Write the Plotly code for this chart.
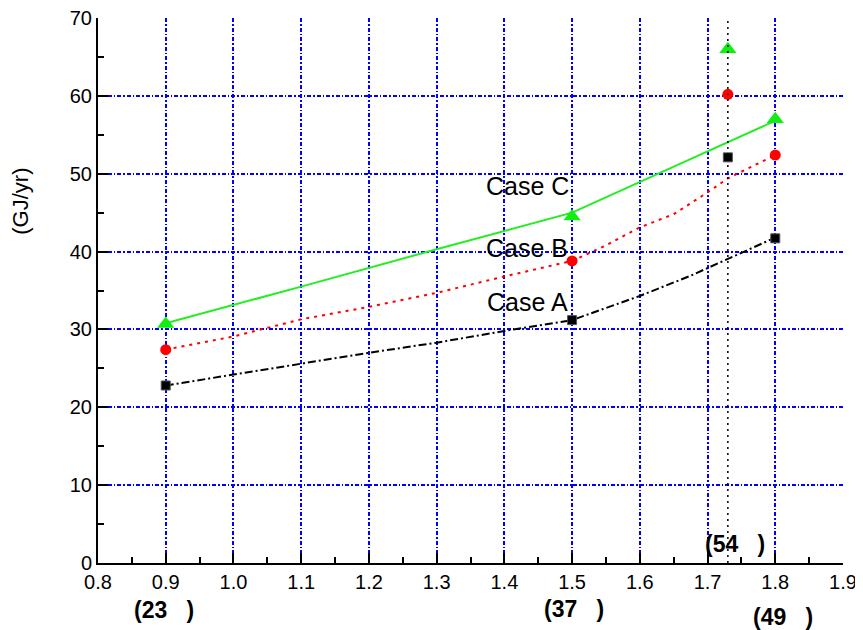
import plotly.graph_objects as go

# ---- data ----
line_x_a = [0.9, 1.0, 1.1, 1.2, 1.3, 1.4, 1.5, 1.55, 1.6, 1.675, 1.73, 1.8]
line_y_a = [22.8, 24.2, 25.6, 27.0, 28.3, 29.8, 31.2, 32.8, 34.3, 36.9, 39.1, 41.8]

line_x_b = [0.9, 1.0, 1.1, 1.2, 1.3, 1.4, 1.5, 1.55, 1.6, 1.65, 1.7, 1.73, 1.8]
line_y_b = [27.4, 29.1, 31.3, 32.9, 34.7, 36.8, 38.8, 40.8, 43.1, 44.8, 47.6, 49.4, 52.4]

line_x_c = [0.9, 1.1, 1.3, 1.5, 1.66, 1.8]
line_y_c = [30.8, 35.5, 40.3, 45.0, 51.3, 56.8]

pt_x = [0.9, 1.5, 1.73, 1.8]
pt_a = [22.8, 31.2, 52.1, 41.7]
pt_b = [27.4, 38.8, 60.2, 52.4]
pt_c = [30.7, 44.5, 66.0, 57.0]

vline_x = 1.73
y_min, y_max = 0, 70
x_min, x_max = 0.8, 1.9

grid_x = [0.9, 1.0, 1.1, 1.2, 1.3, 1.4, 1.5, 1.6, 1.7, 1.8]
grid_y = [10, 20, 30, 40, 50, 60]

case_labels = ["Case C", "Case B", "Case A"]
case_label_x = [1.434, 1.434, 1.434]
case_label_y = [48.4, 40.4, 33.5]

bold_labels = ["(23   )", "(37   )", "(49   )"]
bold_label_x = [0.898, 1.503, 1.811]
bold_label_px = [-47, -46, -54]
label_54 = "(54   )"
label_54_x = 1.74
label_54_y = 2.4

y_title = "(GJ/yr)"
y_title_pos = 46.4

FONT = "Liberation Sans, Arial, sans-serif"

fig = go.Figure()

# vertical dotted reference line (drawn on the overlay axes that carry the grid)
fig.add_trace(go.Scatter(x=[vline_x, vline_x], y=[y_min, y_max], mode="lines",
                         xaxis="x2", yaxis="y2",
                         line=dict(color="black", width=1.5, dash="2px,4px"),
                         showlegend=False, hoverinfo="skip"))

fig.add_trace(go.Scatter(x=line_x_a, y=line_y_a, mode="lines",
                         line=dict(color="black", width=2, dash="8px,3px,2px,3px"),
                         showlegend=False))
fig.add_trace(go.Scatter(x=line_x_b, y=line_y_b, mode="lines",
                         line=dict(color="#ff0000", width=2, dash="3px,5px"),
                         showlegend=False))
fig.add_trace(go.Scatter(x=line_x_c, y=line_y_c, mode="lines",
                         line=dict(color="#22ee22", width=2),
                         showlegend=False))

fig.add_trace(go.Scatter(x=pt_x, y=pt_a, mode="markers",
                         marker=dict(symbol="square", size=9, color="black",
                                     line=dict(color="#555555", width=1)),
                         showlegend=False))
fig.add_trace(go.Scatter(x=pt_x, y=pt_b, mode="markers",
                         marker=dict(symbol="circle", size=11, color="#ff0000"),
                         showlegend=False))
fig.add_trace(go.Scatter(x=pt_x, y=pt_c, mode="markers",
                         marker=dict(symbol="triangle-up", size=15, color="#11ee11"),
                         showlegend=False))

for t, x, y in zip(case_labels, case_label_x, case_label_y):
    fig.add_annotation(x=x, y=y, text=t, showarrow=False, xref="x", yref="y",
                       font=dict(family=FONT, size=25, color="black"))

for t, x, dy in zip(bold_labels, bold_label_x, bold_label_px):
    fig.add_annotation(x=x, y=0, yref="paper", xref="x", yshift=dy, yanchor="middle",
                       text="<b>" + t + "</b>",
                       showarrow=False, font=dict(family=FONT, size=23, color="black"))

fig.add_annotation(x=label_54_x, y=label_54_y, xref="x", yref="y", text="<b>" + label_54 + "</b>",
                   showarrow=False, font=dict(family=FONT, size=23, color="black"))

fig.add_annotation(x=0, y=y_title_pos, xref="paper", yref="y", xshift=-77, textangle=-90,
                   text=y_title, showarrow=False, xanchor="center", yanchor="middle",
                   font=dict(family=FONT, size=22, color="black"))

axis_common = dict(showline=True, linecolor="black", linewidth=2, ticks="inside",
                   tickcolor="black", tickwidth=2, ticklen=10, showgrid=False, zeroline=False,
                   automargin=False, ticklabeloverflow="allow",
                   tickfont=dict(family=FONT, size=20, color="black"))

grid_common = dict(showticklabels=False, ticks="", showgrid=True, gridcolor="#0000ff",
                   gridwidth=1.5, griddash="4px,2px,1.5px,2px", zeroline=False,
                   showline=False, automargin=False)

fig.update_layout(
    width=855, height=622,
    margin=dict(l=90, r=20, t=10, b=67),
    plot_bgcolor="white", paper_bgcolor="white",
    xaxis=dict(range=[x_min, x_max], dtick=0.1, tickformat=".1f",
               minor=dict(ticks="inside", dtick=0.05, ticklen=6, tickcolor="black", tickwidth=2),
               **axis_common),
    yaxis=dict(range=[y_min, y_max], dtick=10,
               minor=dict(ticks="inside", dtick=5, ticklen=6, tickcolor="black", tickwidth=2),
               **axis_common),
    xaxis2=dict(overlaying="x", anchor="y2", range=[x_min, x_max], tickvals=grid_x, **grid_common),
    yaxis2=dict(overlaying="y", anchor="x2", range=[y_min, y_max], tickvals=grid_y, **grid_common),
)

fig.write_html("out.html")
